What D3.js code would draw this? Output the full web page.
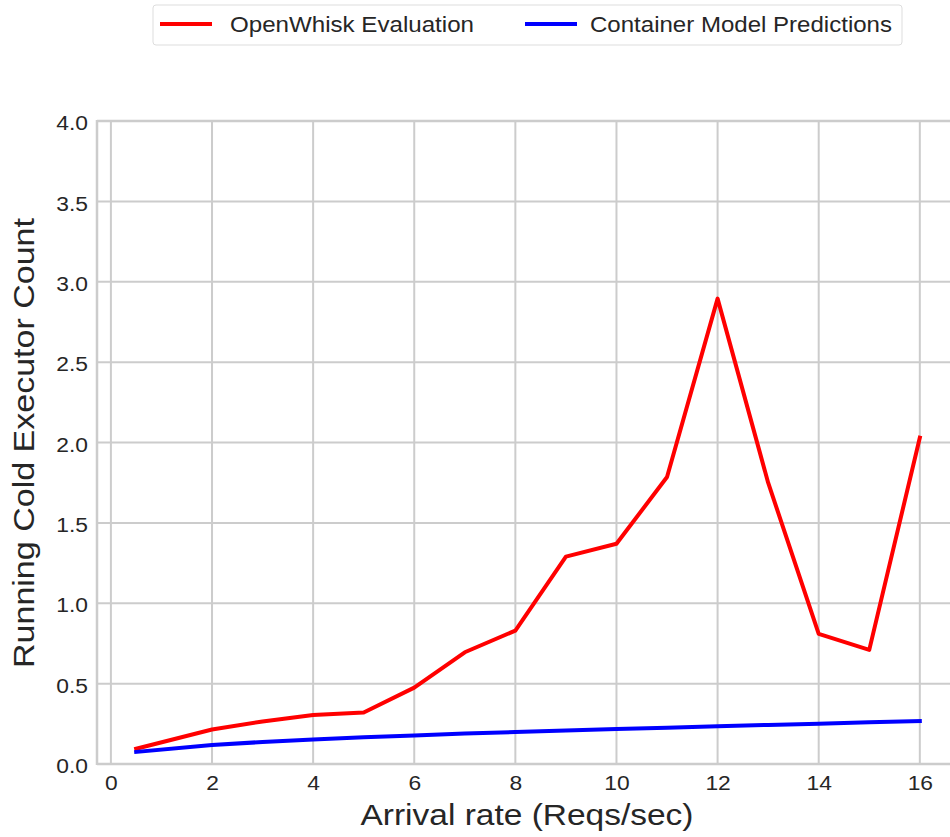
<!DOCTYPE html>
<html>
<head>
<meta charset="utf-8">
<script src="https://cdn.jsdelivr.net/npm/d3@7"></script>
<style>
  html, body { margin: 0; padding: 0; background: #fff; overflow: hidden; }
  svg { display: block; font-family: "Liberation Sans", Arial, sans-serif; }
</style>
</head>
<body>
<svg id="chart" width="950" height="837"></svg>
<script>
// Arrival rates (requests per second)
const arrivalRates = [0.5, 2, 3, 4, 5, 6, 7, 8, 9, 10, 11, 12, 13, 14, 15, 16];
// Measured running cold executors on OpenWhisk
const openWhiskValues = [0.095, 0.215, 0.265, 0.305, 0.32, 0.475, 0.695, 0.83, 1.29, 1.37, 1.785, 2.895, 1.75, 0.81, 0.71, 2.03];
// Container model predictions
const modelValues = [0.075, 0.118, 0.137, 0.153, 0.166, 0.178, 0.189, 0.199, 0.208, 0.217, 0.226, 0.235, 0.243, 0.251, 0.259, 0.267];

const xTicks = [0, 2, 4, 6, 8, 10, 12, 14, 16];
const yTicks = [0, 0.5, 1.0, 1.5, 2.0, 2.5, 3.0, 3.5, 4.0];

const seriesNames = ["OpenWhisk Evaluation", "Container Model Predictions"];
const seriesColors = ["#ff0000", "#0000ff"];

const svg = d3.select("#chart");
const textColor = "#262626";
const gridColor = "#cccccc";
const widen = 1.17; // horizontal text widening

const plot = { left: 97, top: 121, bottom: 764 };

const x = d3.scaleLinear().domain([-0.275, 16.775]).range([plot.left, 959]);
const y = d3.scaleLinear().domain([0, 4]).range([plot.bottom, plot.top]);

// grid lines
const g = svg.append("g");
g.selectAll(".vgrid").data(xTicks).join("line")
  .attr("x1", d => x(d)).attr("x2", d => x(d))
  .attr("y1", plot.top).attr("y2", plot.bottom)
  .attr("stroke", gridColor).attr("stroke-width", 2);
g.selectAll(".hgrid").data(yTicks).join("line")
  .attr("x1", plot.left).attr("x2", 960)
  .attr("y1", d => y(d)).attr("y2", d => y(d))
  .attr("stroke", gridColor).attr("stroke-width", 2);

// frame
g.append("line").attr("x1", plot.left).attr("x2", plot.left)
  .attr("y1", plot.top - 1).attr("y2", plot.bottom + 1)
  .attr("stroke", gridColor).attr("stroke-width", 2.5);
g.append("line").attr("x1", plot.left).attr("x2", 960)
  .attr("y1", plot.bottom).attr("y2", plot.bottom)
  .attr("stroke", gridColor).attr("stroke-width", 2.5);
g.append("line").attr("x1", plot.left).attr("x2", 960)
  .attr("y1", plot.top).attr("y2", plot.top)
  .attr("stroke", gridColor).attr("stroke-width", 2.5);

function widenText(sel, dy) {
  sel.each(function () {
    const t = d3.select(this);
    const tx = +t.attr("x") || 0;
    t.attr("transform", `translate(${tx},${dy}) scale(${widen},1) translate(${-tx},0)`);
  });
}

// axes (labels only)
const xAxis = d3.axisBottom(x).tickValues(xTicks).tickSize(0).tickPadding(12)
  .tickFormat(d3.format("d"));
const xg = svg.append("g").attr("transform", `translate(0,${plot.bottom})`).call(xAxis);
xg.select(".domain").remove();
xg.selectAll("text").attr("fill", textColor).style("font-size", "19.5px")
  .style("font-family", "'Liberation Sans', Arial, sans-serif")
  .call(widenText, 0);

const yAxis = d3.axisLeft(y).tickValues(yTicks).tickSize(0).tickPadding(9)
  .tickFormat(d3.format(".1f"));
const yg = svg.append("g").attr("transform", `translate(${plot.left},0)`).call(yAxis);
yg.select(".domain").remove();
yg.selectAll("text").attr("fill", textColor).style("font-size", "19.5px")
  .style("font-family", "'Liberation Sans', Arial, sans-serif")
  .call(widenText, 2.5);

// axis titles
svg.append("text").attr("x", 527).attr("y", 825)
  .attr("text-anchor", "middle").attr("fill", textColor)
  .attr("textLength", 333).attr("lengthAdjust", "spacingAndGlyphs")
  .style("font-size", "29px").text("Arrival rate (Reqs/sec)");
svg.append("text").attr("transform", "translate(34,443) rotate(-90)")
  .attr("text-anchor", "middle").attr("fill", textColor)
  .attr("textLength", 450).attr("lengthAdjust", "spacingAndGlyphs")
  .style("font-size", "29.5px").text("Running Cold Executor Count");

// series lines
const line = d3.line().x(d => x(d[0])).y(d => y(d[1]));
const seriesData = [openWhiskValues, modelValues];
seriesData.forEach((vals, i) => {
  svg.append("path")
    .datum(arrivalRates.map((r, j) => [r, vals[j]]))
    .attr("fill", "none")
    .attr("stroke", seriesColors[i])
    .attr("stroke-width", 4)
    .attr("stroke-linejoin", "round")
    .attr("stroke-linecap", "square")
    .attr("d", line);
});

// legend
const legend = svg.append("g");
legend.append("rect").attr("x", 153).attr("y", 5).attr("width", 749).attr("height", 40)
  .attr("rx", 3).attr("fill", "#fff").attr("stroke", "#dddddd").attr("stroke-width", 1);
const legendItems = [
  { name: seriesNames[0], color: seriesColors[0], lx: 160, tx: 230, len: 244 },
  { name: seriesNames[1], color: seriesColors[1], lx: 525, tx: 590, len: 302 }
];
legendItems.forEach(it => {
  legend.append("line").attr("x1", it.lx).attr("x2", it.lx + 52)
    .attr("y1", 24).attr("y2", 24)
    .attr("stroke", it.color).attr("stroke-width", 4);
  legend.append("text").attr("x", it.tx).attr("y", 32)
    .attr("fill", textColor)
    .attr("textLength", it.len).attr("lengthAdjust", "spacingAndGlyphs")
    .style("font-size", "21.5px").text(it.name);
});
</script>
</body>
</html>
